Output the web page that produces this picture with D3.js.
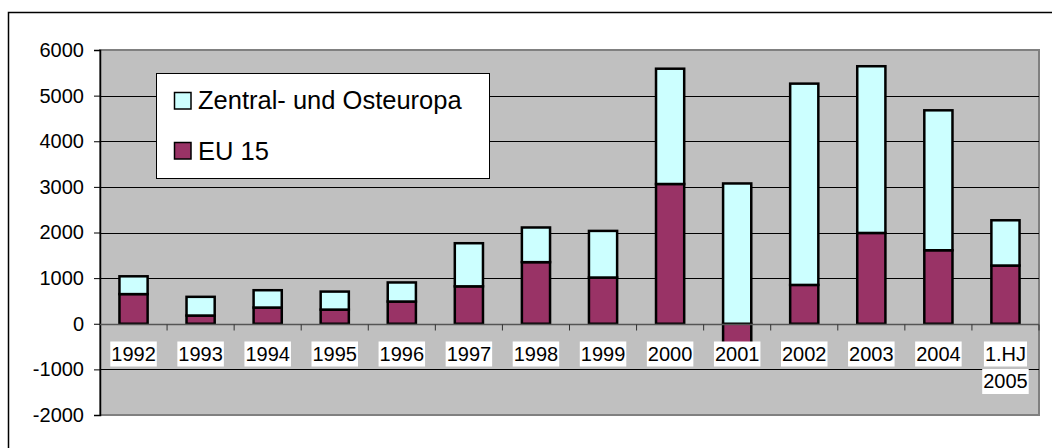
<!DOCTYPE html>
<html>
<head>
<meta charset="utf-8">
<script src="https://cdn.jsdelivr.net/npm/d3@7"></script>
<style>
  html, body { margin: 0; padding: 0; background: #fff; }
  svg { display: block; }
  text { font-family: "Liberation Sans", Arial, sans-serif; fill: #000; }
</style>
</head>
<body>
<svg id="chart" width="1052" height="448"></svg>
<script>
// ---- data ----
const categories = ["1992","1993","1994","1995","1996","1997","1998","1999","2000","2001","2002","2003","2004","1.HJ 2005"];
const categoryLabels = [["1992"],["1993"],["1994"],["1995"],["1996"],["1997"],["1998"],["1999"],["2000"],["2001"],["2002"],["2003"],["2004"],["1.HJ","2005"]];
const eu15 = [650, 180, 355, 310, 487, 820, 1350, 1013, 3063, -430, 851, 1990, 1611, 1276];
const zoe  = [390, 410, 380, 395, 418, 945, 760, 1022, 2527, 3075, 4412, 3654, 3067, 992];
const yTicks = [-2000, -1000, 0, 1000, 2000, 3000, 4000, 5000, 6000];
const seriesNames = ["Zentral- und Osteuropa", "EU 15"];
const seriesColors = ["#CCFFFF", "#993366"];

// ---- layout ----
const svg = d3.select("#chart");
const L = 100, R = 1039, T = 50, B = 415;

// outer chart border (only left and top visible)
svg.append("rect").attr("x", 8.5).attr("y", 12.5).attr("width", 1200).attr("height", 600)
  .attr("fill", "#fff").attr("stroke", "#000").attr("stroke-width", 1.5);

const x = d3.scaleBand().domain(categories).range([L, R]).paddingInner(0.58).paddingOuter(0.29);
const y = d3.scaleLinear().domain([-2000, 6000]).range([B, T]);

// plot area
svg.append("rect").attr("x", L).attr("y", T).attr("width", R - L).attr("height", B - T)
  .attr("fill", "#C0C0C0").attr("stroke", "#808080").attr("stroke-width", 2);

// gridlines
svg.append("g").selectAll("line").data(yTicks.filter(d => d !== 0 && d !== -2000 && d !== 6000)).join("line")
  .attr("x1", L).attr("x2", R)
  .attr("y1", d => Math.round(y(d)) + 0.5).attr("y2", d => Math.round(y(d)) + 0.5)
  .attr("stroke", "#000").attr("stroke-width", 1);

// y axis
const yAxis = d3.axisLeft(y).tickValues(yTicks).tickSize(6).tickPadding(10).tickFormat(d => String(d));
const gy = svg.append("g").attr("transform", `translate(${L},0)`).call(yAxis);
gy.select(".domain").attr("stroke", "#000").attr("stroke-width", 1.5);
gy.selectAll(".tick line").attr("stroke", "#000");
gy.selectAll(".tick text").style("font-family", "'Liberation Sans', Arial, sans-serif").style("font-size", "20px").attr("fill", "#000");

// bars
const gBars = svg.append("g");
categories.forEach((c, i) => {
  const e = eu15[i], z = zoe[i];
  const zBase = e > 0 ? e : 0;
  // EU 15
  gBars.append("rect")
    .attr("x", x(c)).attr("width", x.bandwidth())
    .attr("y", y(Math.max(e, 0))).attr("height", Math.abs(y(e) - y(0)))
    .attr("fill", seriesColors[1]).attr("stroke", "#000").attr("stroke-width", 2.5);
  // Zentral- und Osteuropa
  gBars.append("rect")
    .attr("x", x(c)).attr("width", x.bandwidth())
    .attr("y", y(zBase + z)).attr("height", y(zBase) - y(zBase + z))
    .attr("fill", seriesColors[0]).attr("stroke", "#000").attr("stroke-width", 2.5);
});

// category axis at zero
const y0 = Math.round(y(0)) + 0.5;
svg.append("line").attr("x1", L).attr("x2", R).attr("y1", y0).attr("y2", y0)
  .attr("stroke", "#555").attr("stroke-width", 1.5);
const step = x.step();
const bounds = d3.range(1, categories.length + 1).map(i => L + i * step);
svg.append("g").selectAll("line").data(bounds).join("line")
  .attr("x1", d => d).attr("x2", d => d).attr("y1", y0).attr("y2", y0 + 6)
  .attr("stroke", "#333").attr("stroke-width", 1);

// category labels with white background
const gLab = svg.append("g");
categories.forEach((c, i) => {
  const cx = x(c) + x.bandwidth() / 2;
  categoryLabels[i].forEach((line, j) => {
    const base = 360.5 + j * 27.5;
    const t = gLab.append("text").attr("x", cx).attr("y", base)
      .attr("text-anchor", "middle").style("font-size", "20px").text(line);
    const bb = t.node().getBBox();
    gLab.insert("rect", () => t.node())
      .attr("x", bb.x - 1).attr("y", base - 19).attr("width", bb.width + 2).attr("height", 25)
      .attr("fill", "#fff");
  });
});

// legend
const lg = svg.append("g");
lg.append("rect").attr("x", 156.5).attr("y", 73.5).attr("width", 333).attr("height", 105)
  .attr("fill", "#fff").attr("stroke", "#000").attr("stroke-width", 1);
const legendRows = [
  { name: seriesNames[0], color: seriesColors[0], sy: 92.5, ty: 109 },
  { name: seriesNames[1], color: seriesColors[1], sy: 142.5, ty: 159.5 }
];
legendRows.forEach(r => {
  lg.append("rect").attr("x", 174.5).attr("y", r.sy).attr("width", 16.5).attr("height", 16.5)
    .attr("fill", r.color).attr("stroke", "#000").attr("stroke-width", 1.5);
  lg.append("text").attr("x", 198).attr("y", r.ty).style("font-size", "25.5px").text(r.name);
});
</script>
</body>
</html>
